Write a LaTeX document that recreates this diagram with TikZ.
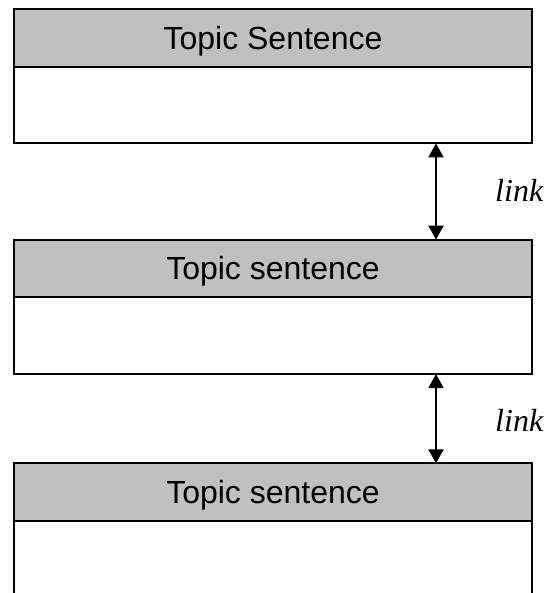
\documentclass[tikz,border=0pt]{standalone}
\usepackage{fontspec}
\setmainfont{Liberation Sans}
\newfontfamily\tnr{Liberation Serif}
\usetikzlibrary{arrows.meta}
\definecolor{hdrgray}{HTML}{C0C0C0}
\begin{document}
\begin{tikzpicture}[x=1pt,y=-1pt,
  boxline/.style={line width=2pt},
  header/.style={boxline, draw=black, fill=hdrgray, minimum width=518.6pt, minimum height=57.4pt,
    inner sep=0pt, outer sep=0pt, text height=23pt, text depth=0pt,
    font=\fontsize{32}{36}\selectfont},
  bodybox/.style={boxline, draw=black, fill=white, minimum width=518.6pt, minimum height=76.7pt,
    inner sep=0pt, outer sep=0pt},
  linklabel/.style={anchor=base west, inner sep=0pt, font=\tnr\itshape\fontsize{32}{36}\selectfont},
  linkarrow/.style={line width=2pt, {Triangle[width=15pt,length=14pt]}-{Triangle[width=15pt,length=14pt]}}
]
\useasboundingbox (0,0) rectangle (550,593);
\fill[white] (0,0) rectangle (550,593);
% box 1
\node[bodybox] (b1) at (273,105) {};
\node[header] (h1) at (273,38) {Topic Sentence};
% box 2
\node[bodybox] (b2) at (273,335.7) {};
\node[header] (h2) at (273,268.3) {Topic sentence};
% box 3
\node[header] (h3) at (273,492) {Topic sentence};
\draw[boxline] (h3.south west) -- (h3.south west |- 0,593);
\draw[boxline] (h3.south east) -- (h3.south east |- 0,593);
% links
\coordinate (ax) at (436,0);
\draw[linkarrow] (ax |- b1.south) -- (ax |- h2.north);
\draw[linkarrow] (ax |- b2.south) -- (ax |- h3.north);
\node[linklabel] (l1) at (495,201.7) {link};
\node[linklabel] (l2) at (495,431.7) {link};
\end{tikzpicture}
\end{document}
